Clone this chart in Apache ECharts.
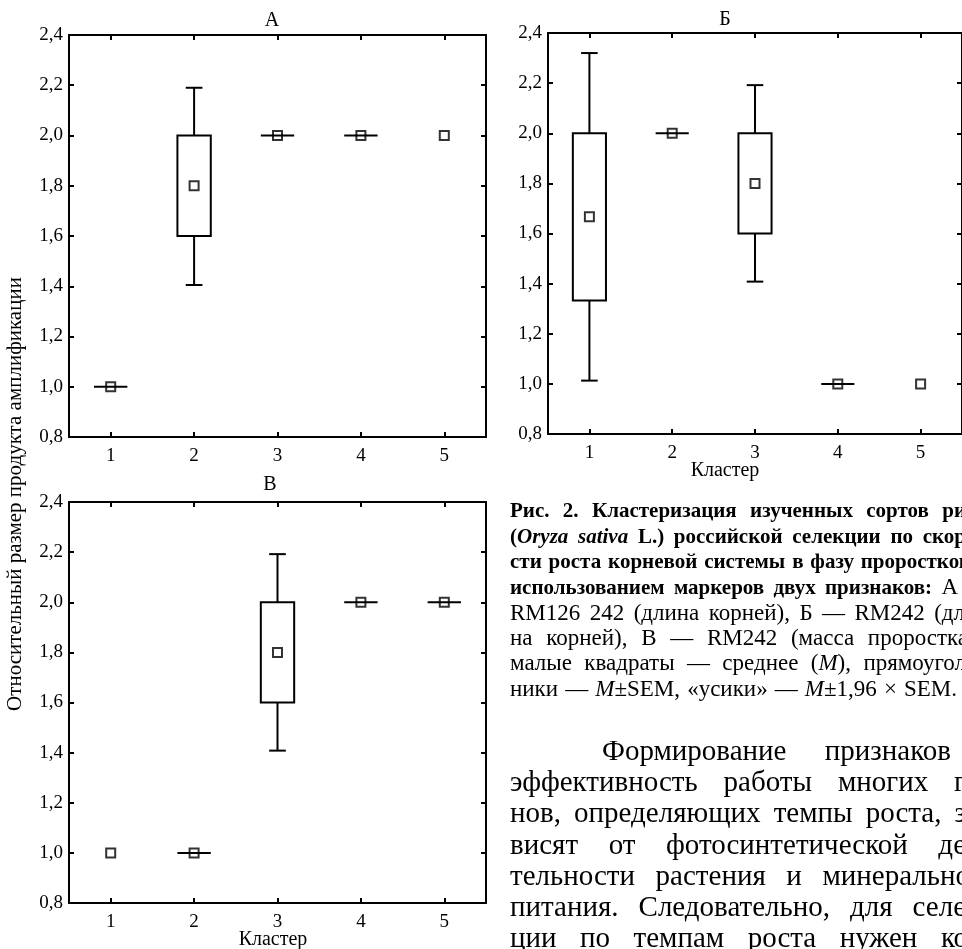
<!DOCTYPE html>
<html>
<head>
<meta charset="utf-8">
<script src="https://cdn.jsdelivr.net/npm/echarts@6/dist/echarts.min.js"></script>
<style>
html,body{margin:0;padding:0;background:#fff;}
#chart{width:962px;height:949px;}
</style>
</head>
<body>
<div id="chart"></div>
<script>
// ---------- DATA ----------
const clusters = ['1', '2', '3', '4', '5'];
const yTicks = [0.8, 1.0, 1.2, 1.4, 1.6, 1.8, 2.0, 2.2, 2.4];

// Panel А
const meanA      = [1.0, 1.8, 2.0, 2.0, 2.0];
const boxLowA    = [1.0, 1.6, 2.0, 2.0, null];
const boxHighA   = [1.0, 2.0, 2.0, 2.0, null];
const whiskLowA  = [1.0, 1.405, 2.0, 2.0, null];
const whiskHighA = [1.0, 2.19, 2.0, 2.0, null];

// Panel Б
const meanB      = [1.667, 2.0, 1.8, 1.0, 1.0];
const boxLowB    = [1.333, 2.0, 1.6, 1.0, null];
const boxHighB   = [2.0, 2.0, 2.0, 1.0, null];
const whiskLowB  = [1.013, 2.0, 1.408, 1.0, null];
const whiskHighB = [2.32, 2.0, 2.192, 1.0, null];

// Panel В
const meanC      = [1.0, 1.0, 1.8, 2.0, 2.0];
const boxLowC    = [null, 1.0, 1.6, 2.0, 2.0];
const boxHighC   = [null, 1.0, 2.0, 2.0, 2.0];
const whiskLowC  = [null, 1.0, 1.408, 2.0, 2.0];
const whiskHighC = [null, 1.0, 2.192, 2.0, 2.0];

const panelTitles = ['А', 'Б', 'В'];
const xAxisTitle = 'Кластер';
const yAxisTitle = 'Относительный размер продукта амплификации';

// ---------- LAYOUT ----------
const FONT = '"Liberation Serif", "Times New Roman", serif';
const grids = [
  { left: 69,  top: 35,  width: 417,   height: 402 },
  { left: 548, top: 33,  width: 415.5, height: 401 },
  { left: 69,  top: 502, width: 417,   height: 401 }
];
const panels = [
  { mean: meanA, bl: boxLowA, bh: boxHighA, wl: whiskLowA, wh: whiskHighA },
  { mean: meanB, bl: boxLowB, bh: boxHighB, wl: whiskLowB, wh: whiskHighB },
  { mean: meanC, bl: boxLowC, bh: boxHighC, wl: whiskLowC, wh: whiskHighC }
];

const LW = 2;
const TICK_FS = 19;
const tickStyle = { show: true, inside: true, length: 5, lineStyle: { color: '#000', width: LW } };
const lineStyle = { show: true, lineStyle: { color: '#000', width: LW } };
const fmt = v => (Math.round(v * 10) / 10).toFixed(1).replace('.', ',');

const xAxes = [], yAxes = [], series = [];
grids.forEach((g, i) => {
  xAxes.push({
    type: 'category', gridIndex: i, data: clusters, position: 'bottom',
    boundaryGap: true,
    axisLine: lineStyle, axisTick: Object.assign({ alignWithLabel: true }, tickStyle),
    axisLabel: { color: '#000', fontFamily: FONT, fontSize: TICK_FS, margin: 10 },
    splitLine: { show: false }
  });
  xAxes.push({
    type: 'category', gridIndex: i, data: clusters, position: 'top',
    boundaryGap: true,
    axisLine: lineStyle, axisTick: Object.assign({ alignWithLabel: true }, tickStyle),
    axisLabel: { show: false }, splitLine: { show: false }
  });
  yAxes.push({
    type: 'value', gridIndex: i, min: 0.8, max: 2.4, interval: 0.2, position: 'left',
    axisLine: lineStyle, axisTick: tickStyle,
    axisLabel: { color: '#000', fontFamily: FONT, fontSize: TICK_FS, margin: 6, formatter: fmt },
    splitLine: { show: false }
  });
  yAxes.push({
    type: 'value', gridIndex: i, min: 0.8, max: 2.4, interval: 0.2, position: 'right',
    axisLine: lineStyle, axisTick: tickStyle,
    axisLabel: { show: false }, splitLine: { show: false }
  });

  const p = panels[i];
  const boxData = clusters.map((c, k) => [k, p.mean[k], p.bl[k], p.bh[k], p.wl[k], p.wh[k]]);
  series.push({
    type: 'custom', xAxisIndex: i * 2, yAxisIndex: i * 2,
    encode: { x: 0, y: [1, 2, 3, 4, 5] },
    data: boxData,
    silent: true,
    renderItem: function (params, api) {
      const k = api.value(0);
      const bl = api.value(2), bh = api.value(3), wl = api.value(4), wh = api.value(5);
      if (isNaN(bl) || isNaN(bh)) return null;
      const band = api.size([1, 0])[0];
      const bw = band * 0.4, cw = band * 0.2;
      const pBL = api.coord([k, bl]), pBH = api.coord([k, bh]);
      const pWL = api.coord([k, wl]), pWH = api.coord([k, wh]);
      const cx = pBL[0];
      const st = { stroke: '#000', lineWidth: LW, fill: null };
      const ch = [];
      if (pWH[1] < pBH[1] - 0.5) {
        ch.push({ type: 'line', shape: { x1: cx, y1: pWH[1], x2: cx, y2: pBH[1] }, style: st });
        ch.push({ type: 'line', shape: { x1: cx - cw / 2, y1: pWH[1], x2: cx + cw / 2, y2: pWH[1] }, style: st });
      }
      if (pWL[1] > pBL[1] + 0.5) {
        ch.push({ type: 'line', shape: { x1: cx, y1: pBL[1], x2: cx, y2: pWL[1] }, style: st });
        ch.push({ type: 'line', shape: { x1: cx - cw / 2, y1: pWL[1], x2: cx + cw / 2, y2: pWL[1] }, style: st });
      }
      if (pBL[1] - pBH[1] > 0.5) {
        ch.push({ type: 'rect', shape: { x: cx - bw / 2, y: pBH[1], width: bw, height: pBL[1] - pBH[1] }, style: { stroke: '#000', lineWidth: LW, fill: '#fff' } });
      } else {
        ch.push({ type: 'line', shape: { x1: cx - bw / 2, y1: pBL[1], x2: cx + bw / 2, y2: pBL[1] }, style: st });
      }
      return { type: 'group', children: ch };
    },
    z: 2
  });
  series.push({
    type: 'scatter', xAxisIndex: i * 2, yAxisIndex: i * 2,
    data: clusters.map((c, k) => [k, p.mean[k]]),
    symbol: 'rect', symbolSize: 9,
    itemStyle: { color: 'rgba(255,255,255,0)', borderColor: '#000', borderWidth: 2 },
    silent: true, z: 3
  });
});

// ---------- TEXT (caption & body) ----------
const measureCtx = document.createElement('canvas').getContext('2d');
const CAP = 23, CAP_B = 21, BODY = 29;
function segSize(s, size) { return (s.b && size === CAP) ? CAP_B : size; }
function segFont(s, size) {
  return (s.i ? 'italic ' : '') + (s.b ? 'bold ' : '') + segSize(s, size) + 'px ' + FONT;
}
function segWidth(s, size) { measureCtx.font = segFont(s, size); return measureCtx.measureText(s.t).width; }
function W(t, b, i) { return { t: t, b: !!b, i: !!i }; }
function words(str, b) { return str.split(' ').map(w => [W(w, b)]); }

const captionLines = [
  { words: words('Рис. 2. Кластеризация изученных сортов ри', true), x0: 510, x1: 966 },
  { words: [[W('(', true), W('Oryza', true, true)], [W('sativa', true, true)], [W('L.)', true)]].concat(words('российской селекции по скор', true)), x0: 510, x1: 966 },
  { words: words('сти роста корневой системы в фазу проростков', true), x0: 510, x1: 970 },
  { words: words('использованием маркеров двух признаков:', true).concat([[W('А')]]), x0: 510, x1: 958 },
  { words: words('RM126 242 (длина корней), Б — RM242 (дл'), x0: 510, x1: 965 },
  { words: words('на корней), В — RM242 (масса проростка'), x0: 510, x1: 968 },
  { words: words('малые квадраты — среднее').concat([[W('('), W('M', false, true), W('),')]]).concat(words('прямоугол')), x0: 510, x1: 966 },
  { words: [[W('ники')], [W('—')], [W('M', false, true), W('±SEM,')], [W('«усики»')], [W('—')], [W('M', false, true), W('±1,96')], [W('×')], [W('SEM.')]], x0: 510, x1: 957 }
];
const bodyLines = [
  { words: words('Формирование признаков'), x0: 602, x1: 951 },
  { words: words('эффективность работы многих г'), x0: 510, x1: 966 },
  { words: words('нов, определяющих темпы роста, з'), x0: 510, x1: 966 },
  { words: words('висят от фотосинтетической де'), x0: 510, x1: 966 },
  { words: words('тельности растения и минерально'), x0: 510, x1: 970 },
  { words: words('питания. Следовательно, для селе'), x0: 510, x1: 966 },
  { words: words('ции по темпам роста нужен ко'), x0: 510, x1: 968 }
];

const graphics = [];
function layoutLine(line, y, size) {
  const ws = line.words.map(w => w.reduce((a, s) => a + segWidth(s, size), 0));
  const total = ws.reduce((a, b) => a + b, 0);
  const n = line.words.length;
  let gap = n > 1 ? (line.x1 - line.x0 - total) / (n - 1) : 0;
  const minGap = size * 0.2;
  if (gap < minGap) gap = minGap;
  let x = line.x0;
  line.words.forEach((w) => {
    w.forEach(s => {
      graphics.push({
        type: 'text', x: x, y: y, silent: true,
        style: {
          text: s.t, fill: '#000', fontFamily: FONT, fontSize: segSize(s, size),
          fontWeight: s.b ? 'bold' : 'normal', fontStyle: s.i ? 'italic' : 'normal',
          align: 'left', verticalAlign: 'middle'
        }
      });
      x += segWidth(s, size);
    });
    x += gap;
  });
}
captionLines.forEach((l, i) => layoutLine(l, 512 + 25.4 * i, CAP));
bodyLines.forEach((l, i) => layoutLine(l, 752 + 31.3 * i, BODY));

function label(t, x, y, rot, fs) {
  graphics.push({
    type: 'text', x: x, y: y, rotation: rot || 0, silent: true,
    style: { text: t, fill: '#000', fontFamily: FONT, fontSize: fs || 20, align: 'center', verticalAlign: 'middle' }
  });
}
label(panelTitles[0], 272, 21);
label(panelTitles[1], 725, 20);
label(panelTitles[2], 270, 485);
label(xAxisTitle, 725, 471);
label(xAxisTitle, 273, 940);
label(yAxisTitle, 15, 494, Math.PI / 2, 21);

const chart = echarts.init(document.getElementById('chart'), null, { renderer: 'canvas' });
chart.setOption({
  animation: false,
  backgroundColor: '#fff',
  grid: grids.map(g => Object.assign({ containLabel: false }, g)),
  xAxis: xAxes,
  yAxis: yAxes,
  series: series,
  graphic: { elements: graphics }
});
</script>
</body>
</html>
